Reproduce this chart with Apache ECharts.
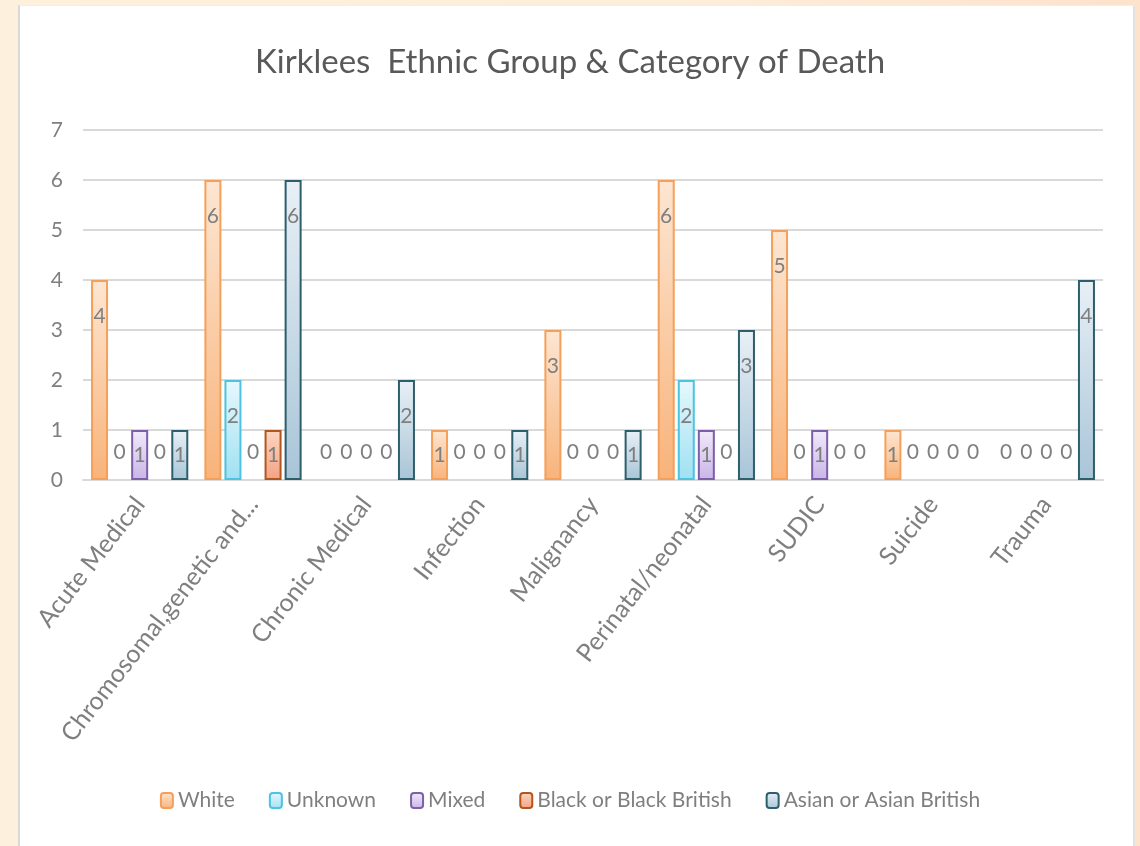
<!DOCTYPE html>
<html>
<head>
<meta charset="utf-8">
<script src="https://cdn.jsdelivr.net/npm/echarts@6/dist/echarts.min.js"></script>
<style>
  html, body { margin: 0; padding: 0; width: 1140px; height: 846px; overflow: hidden;
    background: linear-gradient(to right, #fdf0dc 0%, #fdeedb 60%, #fde2cc 100%); }
  #panel { position: absolute; left: 18px; top: 5px; width: 1113px; height: 850px; background: #fff;
    border-left: 2px solid #d9d9d9; border-right: 2px solid #e2e2e2; border-top: 1px solid #eee; }
  #chart { position: absolute; left: 0; top: 0; width: 1140px; height: 846px; }
</style>
</head>
<body>
<div id="panel"></div>
<div id="chart"></div>
<script>
const categories = ['Acute Medical', 'Chromosomal,genetic and...', 'Chronic Medical', 'Infection', 'Malignancy', 'Perinatal/neonatal', 'SUDIC', 'Suicide', 'Trauma'];
const seriesNames = ['White', 'Unknown', 'Mixed', 'Black or Black British', 'Asian or Asian British'];
const white   = [4, 6, 0, 1, 3, 6, 5, 1, 0];
const unknown = [0, 2, 0, 0, 0, 2, 0, 0, 0];
const mixed   = [1, 0, 0, 0, 0, 1, 1, 0, 0];
const black   = [0, 1, 0, 0, 0, 0, 0, 0, 0];
const asian   = [1, 6, 2, 1, 1, 3, 0, 0, 4];
const yTicks  = [0, 1, 2, 3, 4, 5, 6, 7];

const styles = [
  { border: '#f4a05a', top: '#fde6d2', bottom: '#f8b37a' },
  { border: '#4cc3df', top: '#e6f8fd', bottom: '#9fe1f2' },
  { border: '#7d5fa8', top: '#f1eafa', bottom: '#cab5e8' },
  { border: '#b0561e', top: '#fcd6c2', bottom: '#f4a283' },
  { border: '#2d5e6c', top: '#e8f0f6', bottom: '#a8c5d7' }
];
const values = [white, unknown, mixed, black, asian];
const FONT = 'Lato, "Open Sans", sans-serif';

function labelFor(v) {
  if (v === 0) return { position: 'top', distance: 17 };
  if (v === 1) return { position: 'inside' };
  return { position: 'insideTop', distance: 26 };
}

const series = seriesNames.map((name, i) => ({
  name: name,
  type: 'bar',
  barWidth: 17,
  barGap: '18%',
  data: values[i].map(v => {
    const d = { value: v, label: labelFor(v) };
    if (v === 0) d.itemStyle = { borderWidth: 0, borderColor: 'rgba(0,0,0,0)', color: 'rgba(0,0,0,0)' };
    return d;
  }),
  itemStyle: {
    borderColor: styles[i].border,
    borderWidth: 2,
    color: new echarts.graphic.LinearGradient(0, 0, 0, 1, [
      { offset: 0, color: styles[i].top },
      { offset: 1, color: styles[i].bottom }
    ])
  },
  label: { show: true, color: '#7f7f7f', fontSize: 21, fontFamily: FONT },
  emphasis: { disabled: true }
}));

const chart = echarts.init(document.getElementById('chart'), null, { renderer: 'canvas' });
chart.setOption({
  backgroundColor: 'transparent',
  animation: false,
  title: {
    text: 'Kirklees  Ethnic Group & Category of Death',
    left: 'center', top: 41,
    textStyle: { color: '#595959', fontSize: 33, fontWeight: 'normal', fontFamily: FONT }
  },
  legend: {
    data: seriesNames,
    bottom: 30, left: 'center',
    itemWidth: 12, itemHeight: 15, itemGap: 34,
    textStyle: { color: '#7f7f7f', fontSize: 21, fontFamily: FONT }
  },
  grid: { left: 83, right: 37, top: 130, bottom: 366 },
  xAxis: {
    type: 'category',
    data: categories,
    axisLine: { show: true, lineStyle: { color: '#d9d9d9', width: 2 } },
    axisTick: { show: false },
    axisLabel: { rotate: 52, interval: 0, margin: 20, color: '#7f7f7f', fontSize: 25, fontFamily: FONT }
  },
  yAxis: {
    type: 'value',
    min: yTicks[0], max: yTicks[yTicks.length - 1], interval: 1,
    axisLine: { show: false },
    axisTick: { show: false },
    splitLine: { lineStyle: { color: '#d9d9d9', width: 2 } },
    axisLabel: { margin: 20, color: '#7f7f7f', fontSize: 21, fontFamily: FONT }
  },
  series: series
});
</script>
</body>
</html>
